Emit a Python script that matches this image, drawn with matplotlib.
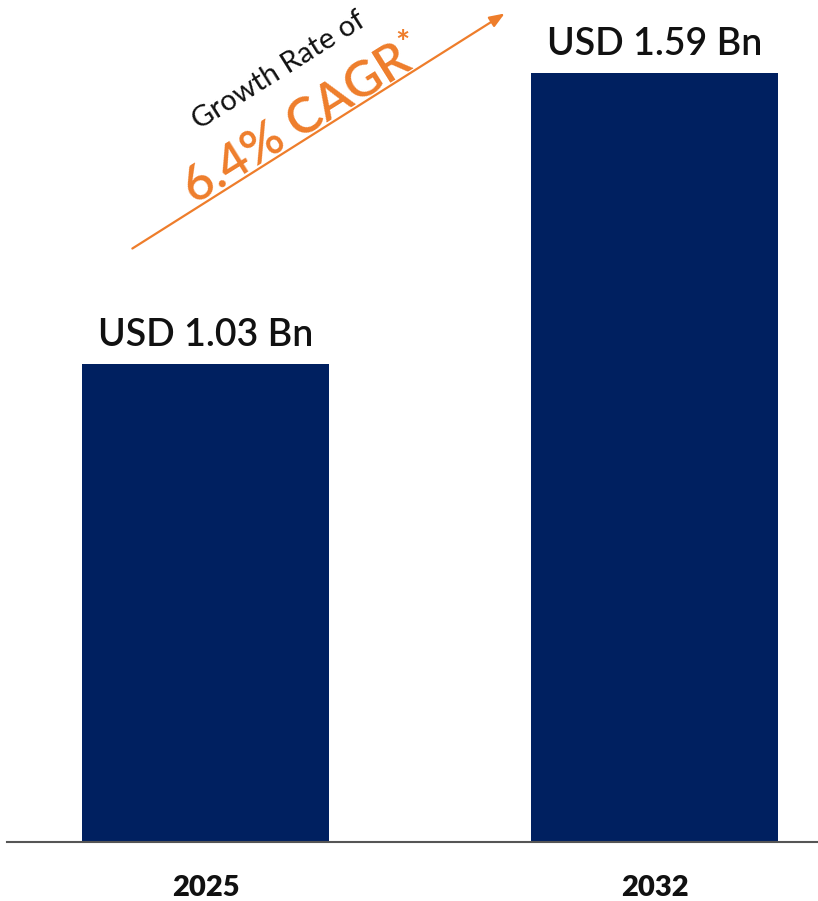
import matplotlib
matplotlib.use("Agg")
import matplotlib.pyplot as plt

years = ["2025", "2032"]
values = [1.03, 1.59]
value_labels = ["USD 1.03 Bn", "USD 1.59 Bn"]
cagr_text = "6.4% CAGR"
growth_text = "Growth Rate of"

NAVY = "#002060"
ORANGE = "#EE7D2B"

plt.rcParams['font.family'] = ['Lato', 'DejaVu Sans']

fig = plt.figure(figsize=(8.18, 9.01), dpi=100)
ax = fig.add_axes([7/818, 1 - 842/901, 811/818, 842/901])

x = list(range(len(years)))
bars = ax.bar(x, values, width=0.55, color=NAVY, zorder=2)
ax.set_xlim(-0.442, 1.364)
ax.set_ylim(0.11, 1.7305)

ax.bar_label(bars, labels=value_labels, padding=8, fontsize=27,
             fontweight='semibold', color='#111111')

ax.set_xticks(x)
ax.set_xticklabels(years, fontsize=21, fontweight='heavy', color='#111111')
ax.tick_params(axis='x', length=0, pad=24)
ax.set_yticks([])
for s in ['top', 'right', 'left']:
    ax.spines[s].set_visible(False)
ax.spines['bottom'].set_color('#555555')
ax.spines['bottom'].set_linewidth(1.5)

# growth arrow (figure pixel coords, origin bottom-left)
H = 901
ax.annotate('', xy=(507, H - 12), xytext=(130, H - 250),
            xycoords='figure pixels', textcoords='figure pixels',
            arrowprops=dict(arrowstyle='-|>,head_length=0.9,head_width=0.35',
                            color=ORANGE, lw=1.6))
fig.text(279/818, 1 - 71/H, growth_text, rotation=32, rotation_mode='anchor',
         ha='center', va='center', fontsize=21, fontweight='normal', color='#111111')
fig.text(297/818, 1 - 124/H, cagr_text, rotation=32, rotation_mode='anchor',
         ha='center', va='center', fontsize=36, fontweight='semibold', color=ORANGE)
fig.text(402/818, 1 - 44/H, "*", rotation=0, rotation_mode='anchor',
         ha='center', va='center', fontsize=24, fontweight='bold', color=ORANGE)

fig.savefig("out.png", dpi=100)
